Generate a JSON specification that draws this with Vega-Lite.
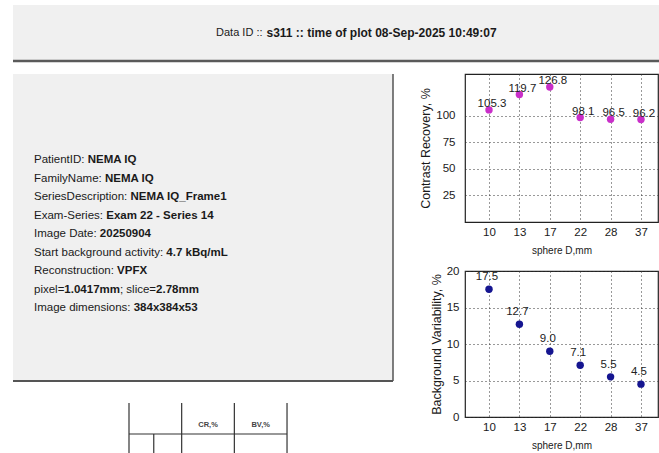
{
  "$schema": "https://vega.github.io/schema/vega-lite/v6.json",
  "background": "white",
  "padding": {"left": 11, "top": 5, "right": 0, "bottom": 0},
  "datasets": {
    "header": [{"a": "Data ID ::", "b": "s311 :: time of plot 08-Sep-2025 10:49:07"}],
    "info": [
      {"line": 1, "label": "PatientID: ", "value": "NEMA IQ"},
      {"line": 2, "label": "FamilyName: ", "value": "NEMA IQ"},
      {"line": 3, "label": "SeriesDescription: ", "value": "NEMA IQ_Frame1"},
      {"line": 4, "label": "Exam-Series: ", "value": "Exam 22 - Series 14"},
      {"line": 5, "label": "Image Date: ", "value": "20250904"},
      {"line": 6, "label": "Start background activity: ", "value": "4.7 kBq/mL"},
      {"line": 7, "label": "Reconstruction: ", "value": "VPFX"},
      {"line": 8, "label": "pixel=", "value": "1.0417mm", "label2": "; slice=", "value2": "2.78mm"},
      {"line": 9, "label": "Image dimensions: ", "value": "384x384x53"}
    ],
    "tbl": [{"col": "c0"}, {"col": "CR,%"}, {"col": "BV,%"}, {"col": "end"}],
    "spheres": [
      {"d": 10, "cr": 105.3, "bv": 17.5},
      {"d": 13, "cr": 119.7, "bv": 12.7},
      {"d": 17, "cr": 126.8, "bv": 9.0},
      {"d": 22, "cr": 98.1, "bv": 7.1},
      {"d": 28, "cr": 96.5, "bv": 5.5},
      {"d": 37, "cr": 96.2, "bv": 4.5}
    ]
  },
  "config": {
    "font": "Liberation Sans",
    "view": {"stroke": null},
    "axis": {"grid": true, "gridColor": "#333333", "gridDash": [1, 3], "gridWidth": 1, "ticks": false, "domain": false, "labelFontSize": 11.5, "labelColor": "#1a1a1a", "titleFontWeight": "normal", "titleColor": "#1a1a1a"},
    "axisX": {"labelAngle": 0, "labelPadding": 4, "titlePadding": 8, "titleFontSize": 10},
    "axisY": {"titleFontSize": 12.5, "titlePadding": 3}
  },
  "bounds": "flush",
  "spacing": 13,
  "vconcat": [
    {
      "width": 648,
      "height": 56,
      "view": {"fill": "#f0f0f0", "stroke": null},
      "data": {"name": "header"},
      "layer": [
        {"mark": {"type": "rule", "color": "#5a5a5a", "strokeWidth": 2.5}, "encoding": {"y": {"value": "height"}}},
        {"mark": {"type": "text", "align": "right", "baseline": "middle", "dx": -74.5, "fontSize": 11, "color": "#1a1a1a"}, "encoding": {"text": {"field": "a"}}},
        {"mark": {"type": "text", "align": "left", "baseline": "middle", "dx": -70.5, "fontSize": 12, "fontWeight": "bold", "color": "#1a1a1a"}, "encoding": {"text": {"field": "b"}}}
      ]
    },
    {
      "bounds": "full",
      "spacing": 25,
      "hconcat": [
        {
          "bounds": "flush",
          "spacing": 22,
          "vconcat": [
            {
              "width": 380,
              "height": 307,
              "view": {"fill": "#f0f0f0", "stroke": null},
              "data": {"name": "info"},
              "layer": [
                {"data": {"values": [{}]}, "mark": {"type": "rule", "color": "#555555", "strokeWidth": 1.5}, "encoding": {"x": {"value": "width"}}},
                {"data": {"values": [{}]}, "mark": {"type": "rule", "color": "#555555", "strokeWidth": 2}, "encoding": {"y": {"value": "height"}}},
                {
                  "mark": {"type": "text", "align": "left", "baseline": "middle", "dx": -169, "fontSize": 11.5, "color": "#1a1a1a"},
                  "encoding": {"y": {"field": "line", "type": "ordinal", "scale": {"type": "point", "range": [86, 234], "padding": 0}, "axis": null}, "text": {"field": "label"}}
                },
                {
                  "mark": {"type": "text", "align": "left", "baseline": "middle", "fontSize": 11.5, "fontWeight": "bold", "color": "#1a1a1a",
                    "dx": {"expr": "-169+0.0115*(556*length(datum.label)-334*(length(datum.label)-length(replace(datum.label,regexp('[ijl]','g'),'')))-278*(length(datum.label)-length(replace(datum.label,regexp('[ftI:.; ]','g'),'')))-223*(length(datum.label)-length(replace(datum.label,regexp('[r-]','g'),'')))-56*(length(datum.label)-length(replace(datum.label,regexp('[cksvxyz]','g'),'')))+111*(length(datum.label)-length(replace(datum.label,regexp('[ABEKPSVXY]','g'),'')))+166*(length(datum.label)-length(replace(datum.label,regexp('[CDHNRUw]','g'),'')))+222*(length(datum.label)-length(replace(datum.label,regexp('[GOQ]','g'),'')))+277*(length(datum.label)-length(replace(datum.label,regexp('[mM]','g'),'')))+28*(length(datum.label)-length(replace(datum.label,regexp('[=]','g'),'')))+55*(length(datum.label)-length(replace(datum.label,regexp('[FTZ]','g'),''))))"}},
                  "encoding": {"y": {"field": "line", "type": "ordinal"}, "text": {"field": "value"}}
                },
                {
                  "transform": [{"filter": "isValid(datum.label2)"}],
                  "mark": {"type": "text", "align": "left", "baseline": "middle", "fontSize": 11.5, "color": "#1a1a1a",
                    "dx": {"expr": "-169+0.0115*(556*length(datum.label)-334*(length(datum.label)-length(replace(datum.label,regexp('[ijl]','g'),'')))-278*(length(datum.label)-length(replace(datum.label,regexp('[ftI:.; ]','g'),'')))-223*(length(datum.label)-length(replace(datum.label,regexp('[r-]','g'),'')))-56*(length(datum.label)-length(replace(datum.label,regexp('[cksvxyz]','g'),'')))+111*(length(datum.label)-length(replace(datum.label,regexp('[ABEKPSVXY]','g'),'')))+166*(length(datum.label)-length(replace(datum.label,regexp('[CDHNRUw]','g'),'')))+222*(length(datum.label)-length(replace(datum.label,regexp('[GOQ]','g'),'')))+277*(length(datum.label)-length(replace(datum.label,regexp('[mM]','g'),'')))+28*(length(datum.label)-length(replace(datum.label,regexp('[=]','g'),'')))+55*(length(datum.label)-length(replace(datum.label,regexp('[FTZ]','g'),''))))+0.0115*(556*length(datum.value)-278*(length(datum.value)-length(replace(datum.value,regexp('[.]','g'),'')))+333*(length(datum.value)-length(replace(datum.value,regexp('[m]','g'),''))))"}},
                  "encoding": {"y": {"field": "line", "type": "ordinal"}, "text": {"field": "label2"}}
                },
                {
                  "transform": [{"filter": "isValid(datum.label2)"}],
                  "mark": {"type": "text", "align": "left", "baseline": "middle", "fontSize": 11.5, "fontWeight": "bold", "color": "#1a1a1a",
                    "dx": {"expr": "-169+0.0115*(556*length(datum.label)-334*(length(datum.label)-length(replace(datum.label,regexp('[ijl]','g'),'')))-278*(length(datum.label)-length(replace(datum.label,regexp('[ftI:.; ]','g'),'')))-223*(length(datum.label)-length(replace(datum.label,regexp('[r-]','g'),'')))-56*(length(datum.label)-length(replace(datum.label,regexp('[cksvxyz]','g'),'')))+111*(length(datum.label)-length(replace(datum.label,regexp('[ABEKPSVXY]','g'),'')))+166*(length(datum.label)-length(replace(datum.label,regexp('[CDHNRUw]','g'),'')))+222*(length(datum.label)-length(replace(datum.label,regexp('[GOQ]','g'),'')))+277*(length(datum.label)-length(replace(datum.label,regexp('[mM]','g'),'')))+28*(length(datum.label)-length(replace(datum.label,regexp('[=]','g'),'')))+55*(length(datum.label)-length(replace(datum.label,regexp('[FTZ]','g'),''))))+0.0115*(556*length(datum.value)-278*(length(datum.value)-length(replace(datum.value,regexp('[.]','g'),'')))+333*(length(datum.value)-length(replace(datum.value,regexp('[m]','g'),''))))+0.0115*(556*length(datum.label2)-334*(length(datum.label2)-length(replace(datum.label2,regexp('[ijl]','g'),'')))-278*(length(datum.label2)-length(replace(datum.label2,regexp('[ftI:.; ]','g'),'')))-223*(length(datum.label2)-length(replace(datum.label2,regexp('[r-]','g'),'')))-56*(length(datum.label2)-length(replace(datum.label2,regexp('[cksvxyz]','g'),'')))+28*(length(datum.label2)-length(replace(datum.label2,regexp('[=]','g'),''))))"}},
                  "encoding": {"y": {"field": "line", "type": "ordinal"}, "text": {"field": "value2"}}
                }
              ]
            },
            {
              "width": 380,
              "height": 50,
              "data": {"name": "tbl"},
              "layer": [
                {
                  "mark": {"type": "rule", "color": "#333333", "strokeWidth": 1.2},
                  "encoding": {"x": {"field": "col", "type": "nominal", "bandPosition": 0, "scale": {"type": "band", "domain": ["c0", "CR,%", "BV,%", "end"], "range": [116, 326.7], "paddingInner": 0, "paddingOuter": 0}, "axis": null}}
                },
                {
                  "data": {"values": [{}]},
                  "mark": {"type": "rule", "color": "#333333", "strokeWidth": 1.2},
                  "encoding": {
                    "x": {"datum": "c0", "type": "nominal", "bandPosition": 0},
                    "x2": {"datum": "end", "bandPosition": 0},
                    "y": {"datum": "r1", "type": "nominal", "bandPosition": 0, "scale": {"type": "band", "domain": ["hdr", "r1"], "range": [0, 62], "paddingInner": 0, "paddingOuter": 0}, "axis": null}
                  }
                },
                {
                  "data": {"values": [{}]},
                  "mark": {"type": "rule", "color": "#333333", "strokeWidth": 1.2},
                  "encoding": {
                    "x": {"datum": "c0", "type": "nominal", "bandPosition": 0.47},
                    "y": {"datum": "r1", "type": "nominal", "bandPosition": 0},
                    "y2": {"value": "height"}
                  }
                },
                {
                  "transform": [{"filter": "datum.col != 'c0' && datum.col != 'end'"}],
                  "mark": {"type": "text", "fontSize": 7.5, "fontWeight": "bold", "color": "#444444", "baseline": "middle"},
                  "encoding": {
                    "x": {"field": "col", "type": "nominal", "bandPosition": 0.5},
                    "y": {"datum": "hdr", "type": "nominal", "bandPosition": 0.7},
                    "text": {"field": "col"}
                  }
                }
              ]
            }
          ]
        },
        {
          "bounds": "flush",
          "spacing": 49,
          "vconcat": [
            {
              "width": 193,
              "height": 148,
              "data": {"name": "spheres"},
              "view": {"stroke": "#222222", "strokeWidth": 1.2, "fill": "white"},
              "encoding": {
                "x": {"field": "d", "type": "ordinal", "scale": {"type": "point", "padding": 0.675, "align": 0.585}, "axis": {"title": "sphere D,mm"}},
                "y": {"field": "cr", "type": "quantitative", "scale": {"domain": [0, 139], "nice": false}, "axis": {"values": [25, 50, 75, 100], "title": "Contrast Recovery, %", "labelPadding": 10}}
              },
              "layer": [
                {"mark": {"type": "circle", "size": 55, "color": "#c92fc9", "opacity": 1}},
                {"mark": {"type": "text", "align": "center", "baseline": "alphabetic", "dx": 3, "dy": -3, "fontSize": 11.5, "color": "#222222"}, "encoding": {"text": {"field": "cr", "type": "quantitative", "format": ".1f"}}}
              ]
            },
            {
              "width": 193,
              "height": 146,
              "data": {"name": "spheres"},
              "view": {"stroke": "#222222", "strokeWidth": 1.2, "fill": "white"},
              "encoding": {
                "x": {"field": "d", "type": "ordinal", "scale": {"type": "point", "padding": 0.675, "align": 0.585}, "axis": {"title": "sphere D,mm"}},
                "y": {"field": "bv", "type": "quantitative", "scale": {"domain": [0, 20], "nice": false}, "axis": {"values": [0, 5, 10, 15, 20], "title": "Background Variability, %", "labelPadding": 6}}
              },
              "layer": [
                {"mark": {"type": "circle", "size": 55, "color": "#151590", "opacity": 1}},
                {"mark": {"type": "text", "align": "center", "baseline": "alphabetic", "dx": -2, "dy": -9, "fontSize": 11.5, "color": "#222222"}, "encoding": {"text": {"field": "bv", "type": "quantitative", "format": ".1f"}}}
              ]
            }
          ]
        }
      ]
    }
  ]
}
